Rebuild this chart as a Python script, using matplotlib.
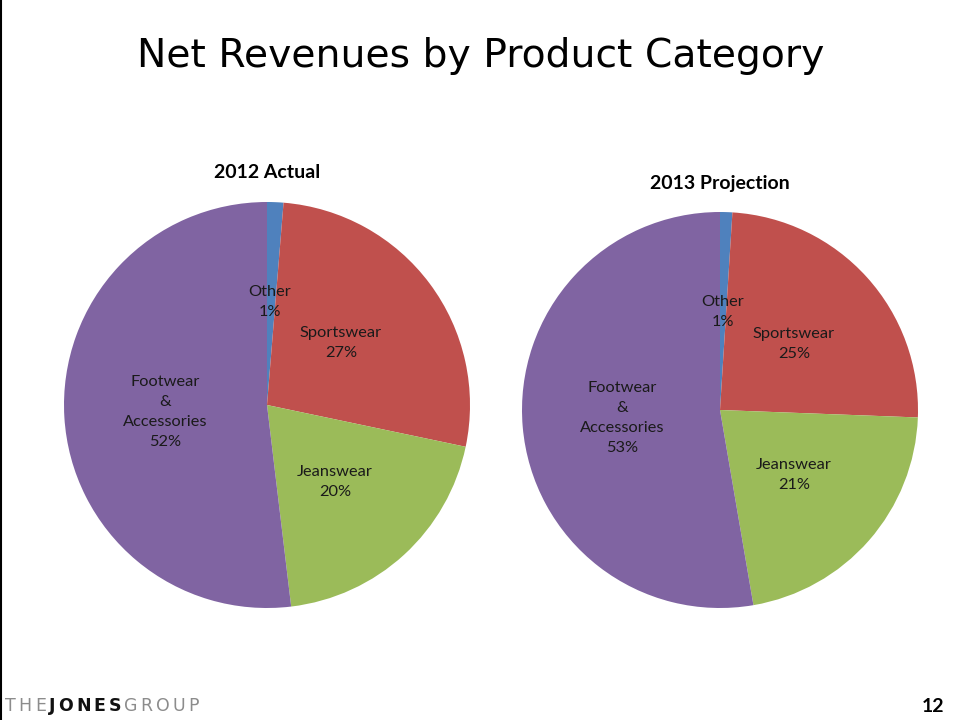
import matplotlib
matplotlib.use("Agg")
import matplotlib.pyplot as plt
from matplotlib.lines import Line2D

categories = ["Other", "Sportswear", "Jeanswear", "Footwear\n&\nAccessories"]
actual_2012 = [1.3, 27.0, 19.8, 51.9]
projection_2013 = [1.0, 24.6, 21.7, 52.7]
labels_2012 = ["1%", "27%", "20%", "52%"]
labels_2013 = ["1%", "25%", "21%", "53%"]
colors = ["#4F81BD", "#C0504D", "#9BBB59", "#8064A2"]

W, H = 960, 720
fig = plt.figure(figsize=(9.6, 7.2), dpi=100)
fig.patch.set_facecolor("white")

label_font = ["Lato", "DejaVu Sans"]

def add_pie(cx, cy, r, values, pct, title, title_y, label_pos):
    ax = fig.add_axes([(cx - r) / W, (H - cy - r) / H, 2 * r / W, 2 * r / H])
    ax.pie(values, colors=colors, startangle=90, counterclock=False,
           radius=1.0, wedgeprops=dict(linewidth=0))
    ax.set_xlim(-1, 1)
    ax.set_ylim(-1, 1)
    ax.set_aspect("equal")
    ax.axis("off")
    for name, p, (lx, ly) in zip(categories, pct, label_pos):
        ax.text(lx, ly, f"{name}\n{p}", ha="center", va="center",
                fontsize=11.8, family=label_font, color="#1a1a1a",
                linespacing=1.55)
    fig.text(cx / W, 1 - title_y / H, title, ha="center", va="center",
             fontsize=14, fontweight="bold", family=label_font, color="black")

add_pie(267, 405, 203, actual_2012, labels_2012, "2012 Actual", 172,
        [(0.015, 103 / 203), (74 / 203, 62 / 203), (68 / 203, -77 / 203),
         (-102 / 203, -7 / 203)])
add_pie(720, 410, 198, projection_2013, labels_2013, "2013 Projection", 183,
        [(0.015, 98 / 198), (74 / 198, 66 / 198), (74 / 198, -65 / 198),
         (-98 / 198, -8 / 198)])

fig.text(481 / W, 1 - 56 / H, "Net Revenues by Product Category",
         ha="center", va="center", fontsize=28.3, family=["DejaVu Sans"],
         fontweight="normal", color="black")

# footer logo, letter-spaced
logo_font = ["DejaVu Sans"]
logo_parts = [("THE", "#8c8c8c", "normal"), ("JONES", "#111111", "bold"),
              ("GROUP", "#8c8c8c", "normal")]
fig.canvas.draw()
rend = fig.canvas.get_renderer()
x = 5.0
for word, col, wt in logo_parts:
    for ch in word:
        t = fig.text(x / W, 1 - 706 / H, ch, ha="left", va="center",
                     fontsize=12.5, color=col, family=logo_font, fontweight=wt)
        bb = t.get_window_extent(rend)
        x = bb.x1 + 3.0

fig.text(944 / W, 1 - 706 / H, "12", ha="right", va="center", fontsize=14,
         fontweight="bold", color="black", family=["Lato", "DejaVu Sans"])

fig.add_artist(Line2D([0.5 / W, 0.5 / W], [0, 1], color="black", linewidth=1.5,
                      transform=fig.transFigure))

fig.savefig("out.png", dpi=100)
